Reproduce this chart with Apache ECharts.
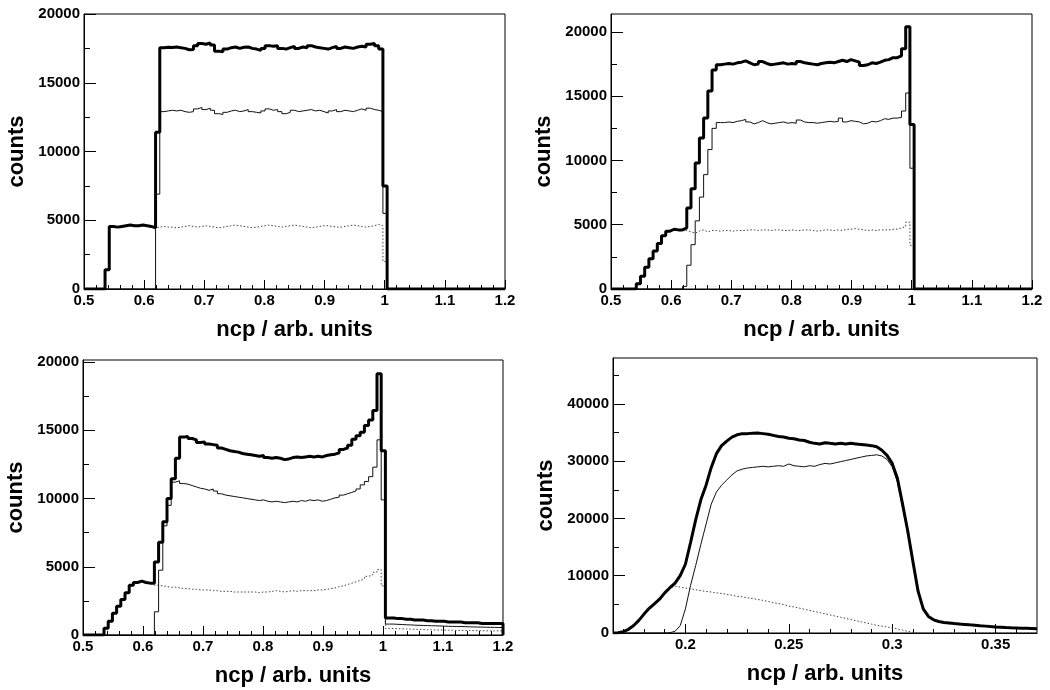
<!DOCTYPE html>
<html><head><meta charset="utf-8">
<script src="https://cdn.jsdelivr.net/npm/echarts@6/dist/echarts.min.js"></script>
<style>html,body{margin:0;padding:0;background:#fff}#c{width:1050px;height:690px}</style>
</head><body><div id="c"></div>
<script>
// ---- histogram binning (panels 1-3) ----
const binStart = 0.5;
const binWidth = 0.007;

// ---- panel 1 (top left) ----
const p1Thick = [0,0,0,0,0,1400,
4550,4500,4550,4600,4650,4600,4600,4650,4600,4550,4450,
11400,
17550,17580,17560,17600,17550,17500,17400,17420,17700,17850,17800,17900,17750,17300,17250,17450,17550,17600,17500,17580,17600,17500,17450,17350,17500,17700,17650,17700,17500,17450,17550,17650,17500,17600,17550,17700,17600,17550,17500,17450,17550,17650,17500,17600,17550,17500,17600,17650,17600,17800,17850,17700,17450,
7500,
0,0,0,0,0,0,0,0,0,0,0,0,0,0,0,0,0,0,0,0,0,0,0,0,0,0,0,0];
const p1Thin = [0,0,0,0,0,0,0,0,0,0,0,0,0,0,0,0,0,
6900,
12900,12950,13000,12950,13000,12900,12850,12900,13100,13200,13050,13150,13000,12750,12700,12850,12950,13000,12900,12950,13050,12900,12850,12800,12950,13100,13000,13050,12900,12750,12850,13000,12900,12950,13000,13050,12950,13000,12900,12800,12950,13050,12900,13000,12950,12900,13000,13100,13000,13150,13050,13000,12900,
5500,
0,0,0,0,0,0,0,0,0,0,0,0,0,0,0,0,0,0,0,0,0,0,0,0,0,0,0,0];
const p1Dot = [0,0,0,0,0,1400,
4550,4500,4550,4600,4650,4600,4600,4650,4600,4550,4450,
4500,
4550,4500,4500,4450,4500,4550,4600,4550,4500,4550,4600,4550,4500,4450,4500,4550,4600,4650,4600,4550,4500,4450,4500,4550,4600,4650,4600,4550,4500,4550,4600,4650,4600,4550,4500,4450,4500,4550,4600,4600,4550,4500,4500,4550,4600,4650,4600,4550,4500,4550,4600,4700,4600,
2000,
0,0,0,0,0,0,0,0,0,0,0,0,0,0,0,0,0,0,0,0,0,0,0,0,0,0,0,0];

// ---- panel 2 (top right) ----
const p2Thick = [0,0,0,0,0,0,
400,1000,1700,2350,2950,3550,4150,4500,4650,4600,4600,
4750,
6300,7800,9800,11750,13300,15400,17050,17450,
17500,17550,17500,17600,17650,17750,17600,17450,17500,17700,17550,17450,17500,17550,17600,17500,17550,17500,17700,17600,17550,17500,17450,17550,17600,17650,17600,17700,17800,17700,17850,17750,17650,17400,17450,17600,17550,17650,17800,17850,18000,18000,18150,
18700,20400,12800,
0,0,0,0,0,0,0,0,0,0,0,0,0,0,0,0,0,0,0,0,0,0,0,0,0,0,0,0];
const p2Thin = [0,0,0,0,0,0,0,0,0,0,0,0,0,0,0,0,0,
200,
1850,3450,5300,7150,8900,10850,12500,12950,
12950,13000,12950,13050,13100,13200,13000,12850,12950,13100,12950,12850,12900,12950,13000,12900,12950,12900,13150,13000,12950,12950,12900,12950,13000,13050,13000,13050,13300,13000,13100,13050,13000,12850,12900,13050,13000,13100,13250,13200,13300,13300,13350,
13850,15250,9400,
0,0,0,0,0,0,0,0,0,0,0,0,0,0,0,0,0,0,0,0,0,0,0,0,0,0,0,0];
const p2Dot = [0,0,0,0,0,0,
400,1000,1700,2350,2950,3550,4150,4500,4650,4600,4600,
4550,
4450,4350,4500,4600,4450,4550,4550,4500,
4550,4550,4500,4550,4550,4550,4600,4600,4550,4600,4600,4550,4600,4600,4550,4550,4600,4550,4550,4600,4600,4550,4500,4550,4600,4600,4550,4600,4550,4650,4650,4700,4650,4600,4550,4600,4550,4600,4600,4600,4650,4650,4750,
4850,5200,3400,
0,0,0,0,0,0,0,0,0,0,0,0,0,0,0,0,0,0,0,0,0,0,0,0,0,0,0,0];

// ---- panel 3 (bottom left) ----
const p3Thick = [0,0,0,0,0,
500,1000,1600,2100,2600,3100,3650,3850,3950,3850,3800,3800,
5350,6800,8300,10000,11450,12950,
14500,14550,14400,14300,14100,14150,14000,13950,13900,13700,13600,13500,13450,13400,13300,13250,13200,13150,13100,13150,13000,12950,13000,12950,12850,12900,13000,13050,13000,13050,13100,13050,13100,13050,13150,13200,13250,13350,13600,13700,13900,14350,14600,14850,15350,15750,16450,
19150,13500,
1250,1250,1200,1200,1150,1150,1100,1100,1100,1050,1050,1000,1000,1000,950,950,950,950,900,900,900,900,850,850,850,850,850,850];
const p3Thin = [0,0,0,0,0,0,0,0,0,0,0,0,0,0,0,0,0,
1700,4750,8000,9500,11200,11300,
11100,11050,10950,10850,10750,10700,10600,10700,10550,10350,10250,10200,10150,10100,10050,10000,9950,9900,9850,9900,9800,9750,9800,9750,9700,9750,9800,9750,9850,9800,9900,9850,9900,9800,9850,
9950,10050,10100,10250,10350,10450,10550,10700,11000,11250,11600,12300,
14300,9900,
800,800,780,770,750,740,720,710,700,690,680,670,660,650,640,630,620,620,610,600,590,580,580,570,560,560,550,550];
const p3Dot = [0,0,0,0,0,
500,1000,1600,2100,2600,3100,3650,3850,3950,3850,3800,3800,
3650,3600,3550,3500,3500,3450,3400,3400,3350,3350,3300,3300,3300,3250,3250,3200,3200,3200,3150,3150,3150,3150,3150,3150,3100,3150,3150,3200,3250,3200,3150,3200,3250,3200,3250,3250,3250,3250,3300,3300,3350,3400,3450,3550,3600,3700,3800,3900,4000,4100,4300,4400,4600,
4800,3600,
480,470,460,450,440,430,420,410,400,390,380,370,370,360,350,350,340,340,330,330,320,320,310,310,300,300,300,300];

// ---- panel 4 (bottom right), sampled every p4Step from p4Start ----
const p4Start = 0.165;
const p4Step = 0.0025;
const p4Thick = [0,50,230,650,1300,2200,3300,4300,5100,5900,7000,7900,8700,10000,12000,15800,19800,23300,25800,28900,31300,32700,33500,34200,34600,34800,34800,34850,34900,34800,34700,34500,34300,34200,34000,33900,33700,33600,33300,33100,33000,33200,33100,33000,33100,33000,33100,33000,32900,32800,32700,32500,31900,31000,29600,27000,22500,17800,12500,7300,4200,
2900,2300,2000,1850,1750,1650,1570,1500,1420,1350,1270,1200,1120,1050,1000,950,910,880,850,820,790,760];
const p4Thin = [0,0,0,0,0,0,0,0,0,0,0,50,300,1300,4200,8300,11800,15500,19000,22500,24600,25800,26700,27600,28300,28600,28800,28900,29000,29100,29000,29100,29200,29100,29500,29200,29100,29000,29200,29100,29400,29600,29500,29700,29900,30100,30300,30500,30700,30900,31000,31100,30900,30300,29000,26400,22000,17500,12300,7200,4200,
2900,2300,2000,1850,1750,1650,1570,1500,1420,1350,1270,1200,1120,1050,1000,950,910,880,850,820,790,760];
const p4Dot = [0,50,230,650,1300,2200,3300,4300,5100,5900,7000,7850,8200,8000,7850,7700,7550,7400,7250,7150,7000,6900,6750,6600,6400,6300,6150,6000,5850,5700,5500,5300,5150,4950,4700,4550,4350,4150,3950,3750,3550,3350,3150,2950,2750,2550,2350,2150,1950,1750,1550,1350,1200,1050,900,700,500,300,100,
0,0,0,0,0,0,0,0,0,0,0,0,0,0,0,0,0,0,0,0,0,0,0,0];

// ---- tick labels ----
const xTicksHist = [0.5,0.6,0.7,0.8,0.9,1.0,1.1,1.2];
const xTicksP4 = [0.2,0.25,0.3,0.35];
const yTicks20k = [0,5000,10000,15000,20000];
const yTicksP4 = [0,10000,20000,30000,40000];

const xTitle = 'ncp / arb. units';
const yTitle = 'counts';

// ---------------- build chart ----------------
const FONT = '"Liberation Sans", Arial, Helvetica, sans-serif';
const r4 = v => Math.round(v * 10000) / 10000;

function histData(vals) {
  const d = [];
  for (let i = 0; i < vals.length; i++) d.push([r4(binStart + i * binWidth), vals[i]]);
  d.push([r4(binStart + vals.length * binWidth), 0]);
  return d;
}
function sampleData(vals) {
  return vals.map((v, i) => [r4(p4Start + i * p4Step), v]);
}
function minorBetween(min, max, step, majors) {
  const out = [];
  const n = Math.round((max - min) / step);
  for (let i = 0; i <= n; i++) {
    const v = r4(min + i * step);
    if (v < min - 1e-9 || v > max + 1e-9) continue;
    if (majors.some(m => Math.abs(m - v) < 1e-7)) continue;
    out.push(v);
  }
  return out;
}

const panels = [
  {grid:{left:84, top:14, width:421, height:275}, xmin:0.5, xmax:1.2, ymax:20000,
   xMaj:xTicksHist, xMin:minorBetween(0.5,1.2,0.02,xTicksHist), yMaj:yTicks20k, yMin:minorBetween(0,20000,2500,yTicks20k),
   series:[p1Dot,p1Thin,p1Thick], hist:true},
  {grid:{left:611, top:14, width:421, height:275}, xmin:0.5, xmax:1.2, ymax:21400,
   xMaj:xTicksHist, xMin:minorBetween(0.5,1.2,0.02,xTicksHist), yMaj:yTicks20k, yMin:minorBetween(0,20000,2500,yTicks20k),
   series:[p2Dot,p2Thin,p2Thick], hist:true},
  {grid:{left:83, top:360, width:420, height:275}, xmin:0.5, xmax:1.2, ymax:20150,
   xMaj:xTicksHist, xMin:minorBetween(0.5,1.2,0.02,xTicksHist), yMaj:yTicks20k, yMin:minorBetween(0,20000,2500,yTicks20k),
   series:[p3Dot,p3Thin,p3Thick], hist:true},
  {grid:{left:613, top:358, width:424, height:275}, xmin:0.165, xmax:0.37, ymax:48000,
   xMaj:xTicksP4, xMin:minorBetween(0.17,0.36,0.01,xTicksP4), yMaj:yTicksP4, yMin:minorBetween(5000,45000,5000,yTicksP4),
   series:[p4Dot,p4Thin,p4Thick], hist:false}
];

const option = {
  animation:false,
  backgroundColor:'#fff',
  grid:[], xAxis:[], yAxis:[], series:[]
};

const labelStyle = {color:'#000', fontSize:15, fontWeight:'bold', fontFamily:FONT};
const nameStyle = {color:'#000', fontSize:22, fontWeight:'bold', fontFamily:FONT};

panels.forEach((p, gi) => {
  option.grid.push(Object.assign({show:true, borderColor:'#000', borderWidth:1, backgroundColor:'rgba(0,0,0,0)', containLabel:false, outerBoundsMode:'none'}, p.grid));
  const fmtX = v => String(Math.round(v * 1000) / 1000);
  option.xAxis.push({
    gridIndex:gi, type:'value', min:p.xmin, max:p.xmax, position:'bottom',
    axisLine:{show:true, onZero:false, lineStyle:{color:'#000', width:1}},
    axisTick:{show:true, inside:true, length:9, customValues:p.xMaj, lineStyle:{color:'#000', width:1}},
    axisLabel:{show:true, customValues:p.xMaj, margin:4, formatter:fmtX, ...labelStyle, showMinLabel:true, showMaxLabel:true, hideOverlap:false},
    splitLine:{show:false},
    name:xTitle, nameLocation:'middle', nameGap:30, nameTextStyle:nameStyle
  });
  option.xAxis.push({
    gridIndex:gi, type:'value', min:p.xmin, max:p.xmax, position:'bottom',
    axisLine:{show:false}, axisLabel:{show:false}, splitLine:{show:false},
    axisTick:{show:true, inside:true, length:4, customValues:p.xMin, lineStyle:{color:'#000', width:1}}
  });
  option.yAxis.push({
    gridIndex:gi, type:'value', min:0, max:p.ymax, position:'left',
    axisLine:{show:true, onZero:false, lineStyle:{color:'#000', width:1}},
    axisTick:{show:true, inside:true, length:12, customValues:p.yMaj, lineStyle:{color:'#000', width:1}},
    axisLabel:{show:true, customValues:p.yMaj, margin:4, formatter:v => String(v), ...labelStyle, showMinLabel:true, showMaxLabel:true, hideOverlap:false},
    splitLine:{show:false},
    name:yTitle, nameLocation:'middle', nameGap:56, nameTextStyle:nameStyle
  });
  option.yAxis.push({
    gridIndex:gi, type:'value', min:0, max:p.ymax, position:'left',
    axisLine:{show:false}, axisLabel:{show:false}, splitLine:{show:false},
    axisTick:{show:true, inside:true, length:6, customValues:p.yMin, lineStyle:{color:'#000', width:1}}
  });
  const styles = [
    {color:'#444', width:1, type:[1.5,2]},
    {color:'#111', width:1, type:'solid'},
    {color:'#000', width:3, type:'solid'}
  ];
  p.series.forEach((vals, si) => {
    option.series.push({
      type:'line', xAxisIndex:gi*2, yAxisIndex:gi*2,
      data: p.hist ? histData(vals) : sampleData(vals),
      step: p.hist ? 'end' : false,
      showSymbol:false, symbol:'none', smooth:false, clip:true,
      lineStyle:styles[si], z:2 + si, silent:true
    });
  });
});

const chart = echarts.init(document.getElementById('c'), null, {renderer:'canvas'});
chart.setOption(option);
</script>
</body></html>
